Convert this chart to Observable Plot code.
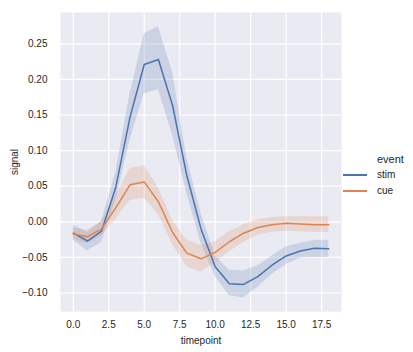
<!DOCTYPE html>
<html>
<head>
<meta charset="utf-8">
<script src="https://cdn.jsdelivr.net/npm/d3@7"></script>
<script src="https://cdn.jsdelivr.net/npm/@observablehq/plot@0.6"></script>
<style>
  body { margin: 0; background: white; }
  #wrap { position: relative; width: 413px; height: 352px; font-family: "Liberation Sans", Arial, sans-serif; color: #262626; }
  #legend { position: absolute; left: 343px; top: 153px; font-size: 10px; }
  #legend .title { margin-left: 34px; height: 13.5px; line-height: 13.5px; font-size: 11px; }
  #legend .row { display: flex; align-items: center; height: 16px; }
  #legend .sw { width: 24px; height: 2px; margin-right: 10px; }
  .lab11 text { font-size: 11px; }
</style>
</head>
<body>
<div id="wrap"></div>
<script>
const timepoints = [0,1,2,3,4,5,6,7,8,9,10,11,12,13,14,15,16,17,18];
const events = ["stim", "cue"];
const colors = ["#4C72B0", "#DD8452"];

const stimMean = [-0.016, -0.027, -0.013, 0.049, 0.147, 0.221, 0.228, 0.163, 0.065, -0.010, -0.063, -0.087, -0.088, -0.077, -0.061, -0.048, -0.041, -0.037, -0.038];
const stimLow  = [-0.026, -0.041, -0.029, 0.030, 0.115, 0.180, 0.186, 0.122, 0.040, -0.030, -0.077, -0.104, -0.107, -0.092, -0.074, -0.060, -0.051, -0.050, -0.050];
const stimHigh = [-0.004, -0.015, 0.001, 0.070, 0.180, 0.264, 0.274, 0.210, 0.090, 0.012, -0.048, -0.068, -0.069, -0.062, -0.048, -0.035, -0.030, -0.026, -0.026];

const cueMean = [-0.017, -0.021, -0.010, 0.020, 0.052, 0.056, 0.028, -0.015, -0.044, -0.052, -0.043, -0.028, -0.016, -0.008, -0.004, -0.002, -0.003, -0.004, -0.004];
const cueLow  = [-0.025, -0.030, -0.020, 0.004, 0.030, 0.033, 0.010, -0.032, -0.063, -0.071, -0.058, -0.042, -0.029, -0.019, -0.015, -0.013, -0.014, -0.015, -0.015];
const cueHigh = [-0.009, -0.012, 0.000, 0.037, 0.075, 0.079, 0.048, 0.002, -0.026, -0.033, -0.028, -0.014, -0.004, 0.003, 0.006, 0.007, 0.007, 0.007, 0.007];

const xTicks = [0, 2.5, 5, 7.5, 10, 12.5, 15, 17.5];
const yTicks = [-0.10, -0.05, 0.00, 0.05, 0.10, 0.15, 0.20, 0.25];

const data = [];
timepoints.forEach((t, i) => {
  data.push({event: "stim", t, mean: stimMean[i], lo: stimLow[i], hi: stimHigh[i]});
});
timepoints.forEach((t, i) => {
  data.push({event: "cue", t, mean: cueMean[i], lo: cueLow[i], hi: cueHigh[i]});
});

const fmtY = d => (d < 0 ? "\u2212" : "") + Math.abs(d).toFixed(2);

const chart = Plot.plot({
  width: 413,
  height: 352,
  marginLeft: 60,
  marginRight: 72,
  marginTop: 12,
  marginBottom: 41,
  style: {fontFamily: "'Liberation Sans', Arial, sans-serif", fontSize: "10px", color: "#262626", background: "white", overflow: "visible"},
  x: {domain: [-0.9, 18.9]},
  y: {domain: [-0.126, 0.294]},
  color: {domain: events, range: colors},
  marks: [
    Plot.frame({fill: "#EAEAF2", stroke: null}),
    Plot.gridX(xTicks, {stroke: "white", strokeOpacity: 1, strokeWidth: 1.2}),
    Plot.gridY(yTicks, {stroke: "white", strokeOpacity: 1, strokeWidth: 1.2}),
    Plot.areaY(data, {x: "t", y1: "lo", y2: "hi", fill: "event", fillOpacity: 0.2}),
    Plot.lineY(data, {x: "t", y: "mean", stroke: "event", strokeWidth: 1.5}),
    Plot.axisX(xTicks, {tickSize: 0, tickPadding: 9, tickFormat: d3.format(".1f"), fill: "#262626", label: null}),
    Plot.axisY(yTicks, {tickSize: 0, tickPadding: 13, tickFormat: fmtY, fill: "#262626", label: null}),
    Plot.axisX({ticks: [], tickSize: 0, label: "timepoint", labelAnchor: "center", labelArrow: "none", labelOffset: 32, fill: "#262626", className: "lab11"}),
    Plot.axisY({ticks: [], tickSize: 0, label: "signal", labelAnchor: "center", labelArrow: "none", labelOffset: 50, fill: "#262626", className: "lab11"})
  ]
});

const wrap = document.getElementById("wrap");
wrap.appendChild(chart);

const legend = document.createElement("div");
legend.id = "legend";
let html = `<div class="title">event</div>`;
events.forEach((e, i) => {
  html += `<div class="row"><div class="sw" style="background:${colors[i]}"></div><span>${e}</span></div>`;
});
legend.innerHTML = html;
wrap.appendChild(legend);
</script>
</body>
</html>
